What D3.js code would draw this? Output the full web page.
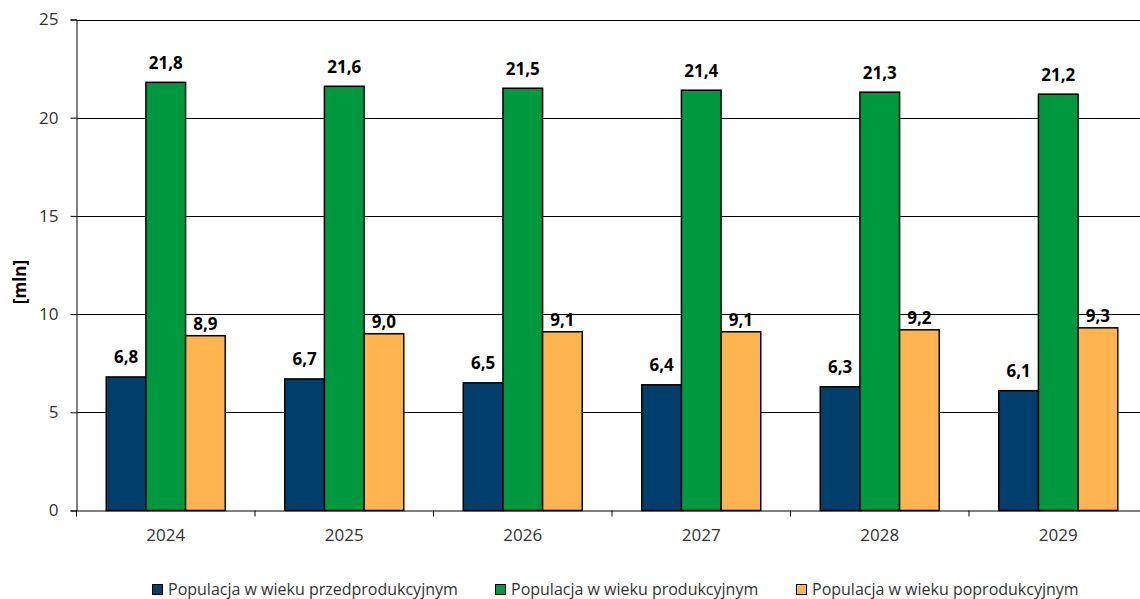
<!DOCTYPE html>
<html><head><meta charset="utf-8">
<script src="https://cdn.jsdelivr.net/npm/d3@7"></script>
<style>html,body{margin:0;padding:0;background:#fff;} svg{display:block;font-family:"Open Sans",sans-serif;}</style>
</head><body>
<svg id="c" width="1140" height="599"></svg>
<script>
const categories = ["2024","2025","2026","2027","2028","2029"];
const seriesNames = ["Populacja w wieku przedprodukcyjnym","Populacja w wieku produkcyjnym","Populacja w wieku poprodukcyjnym"];
const preProd = [6.8,6.7,6.5,6.4,6.3,6.1];
const prod = [21.8,21.6,21.5,21.4,21.3,21.2];
const postProd = [8.9,9.0,9.1,9.1,9.2,9.3];
const yTicks = [0,5,10,15,20,25];
const colors = ["#003e6b","#00983f","#ffb450"];
const labelGap = [14,13,6];

const series = [preProd, prod, postProd];
const svg = d3.select("#c");
const L = 76.5, R = 1147.5, T = 19.5, B = 510.5;
const x = d3.scaleBand().domain(categories).range([L,R]).paddingInner(0).paddingOuter(0);
const y = d3.scaleLinear().domain([0,25]).range([B,T]);
const groupW = 119;
const x1 = d3.scaleBand().domain([0,1,2]).range([0,groupW]);

// gridlines
svg.append("g").selectAll("line").data(yTicks.filter(d=>d>0)).join("line")
  .attr("x1",L).attr("x2",R).attr("y1",d=>Math.round(y(d))+0.5).attr("y2",d=>Math.round(y(d))+0.5)
  .attr("stroke","#000").attr("stroke-width",1);

// bars
series.forEach((vals,si)=>{
  const g = svg.append("g");
  g.selectAll("rect").data(vals).join("rect")
    .attr("x",(d,i)=>x(categories[i])+(x.bandwidth()-groupW)/2+x1(si))
    .attr("width",x1.bandwidth())
    .attr("y",d=>y(d)).attr("height",d=>B-y(d))
    .attr("fill",colors[si]).attr("stroke","#000").attr("stroke-width",1.5);
  g.selectAll("text").data(vals).join("text")
    .attr("x",(d,i)=>x(categories[i])+(x.bandwidth()-groupW)/2+x1(si)+x1.bandwidth()/2)
    .attr("y",d=>y(d)-labelGap[si])
    .attr("text-anchor","middle").attr("font-weight","bold").attr("font-size",17).attr("fill","#000")
    .text(d=>d.toFixed(1).replace(".",","));
});

// y axis
const ya = d3.axisLeft(y).tickValues(yTicks).tickSize(6).tickPadding(12).tickFormat(d=>d);
const yg = svg.append("g").attr("transform",`translate(${L},0)`).call(ya);
yg.select(".domain").attr("stroke","#000");
yg.selectAll(".tick line").attr("stroke","#000");
yg.selectAll(".tick text").attr("font-size",17).attr("fill","#333").attr("font-family","Open Sans");

// x axis
const xa = d3.axisBottom(x).tickSize(0).tickPadding(18);
const xg = svg.append("g").attr("transform",`translate(0,${B})`).call(xa);
xg.select(".domain").attr("stroke","#000");
xg.selectAll(".tick text").attr("font-size",17).attr("fill","#333").attr("font-family","Open Sans");
xg.append("g").selectAll("line").data(categories).join("line")
  .attr("x1",d=>x(d)).attr("x2",d=>x(d)).attr("y1",0).attr("y2",6).attr("stroke","#000");

// y label
svg.append("text").attr("transform","translate(26,282) rotate(-90)")
  .attr("text-anchor","middle").attr("font-weight","bold").attr("font-size",17).attr("fill","#000").text("[mln]");

// legend
const legX = [152,495,796];
const lg = svg.append("g").selectAll("g").data(seriesNames).join("g")
  .attr("transform",(d,i)=>`translate(${legX[i]},584)`);
lg.append("rect").attr("x",0.5).attr("y",0.5).attr("width",10).attr("height",10)
  .attr("fill",(d,i)=>colors[i]).attr("stroke","#000").attr("stroke-width",1);
lg.append("text").attr("x",16).attr("y",11).attr("font-size",16).attr("fill","#333").text(d=>d);
</script>
</body></html>
